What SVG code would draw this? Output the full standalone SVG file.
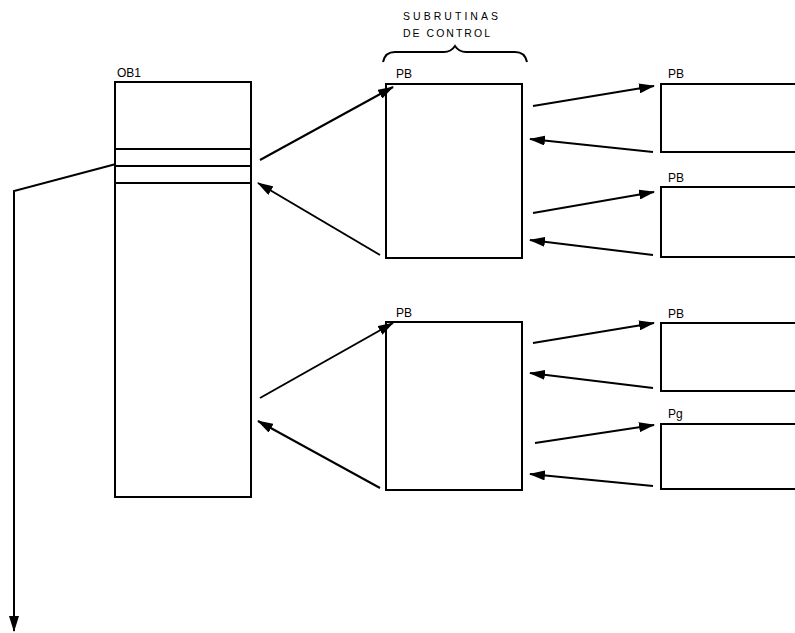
<svg xmlns="http://www.w3.org/2000/svg" width="795" height="633" viewBox="0 0 795 633">
<style>
.box{fill:none;stroke:#000;stroke-width:2}
.ln{fill:none;stroke:#000;stroke-width:2}
.lbl{font-family:"Liberation Sans",Arial,sans-serif;font-size:12px;fill:#000}
.ttl{font-family:"Liberation Sans",Arial,sans-serif;font-size:10.5px;fill:#000}
.arr{fill:none;stroke:#000;stroke-width:2;marker-end:url(#ah)}
</style>
<defs>
<marker id="ah" viewBox="0 0 16 10" refX="15" refY="5" markerWidth="16" markerHeight="10" markerUnits="userSpaceOnUse" orient="auto">
<path d="M0,0 L16,5 L0,10 Z" fill="#000"/>
</marker>
</defs>
<rect width="795" height="633" fill="#fff"/>
<g id="title">
<text class="ttl" x="403" y="20" textLength="95" lengthAdjust="spacing">SUBRUTINAS</text>
<text class="ttl" x="403" y="37" textLength="87" lengthAdjust="spacing">DE CONTROL</text>
<path class="ln" d="M383,62 Q385,52 395,52 L444,52 Q451,52 455,46 Q459,52 466,52 L515,52 Q525,52 527,62" stroke-width="1.5"/>
</g>
<g id="ob1">
<text class="lbl" x="117" y="77">OB1</text>
<rect class="box" x="115" y="82" width="136" height="415"/>
<line class="ln" x1="115" y1="149" x2="251" y2="149"/>
<line class="ln" x1="115" y1="166" x2="251" y2="166"/>
<line class="ln" x1="115" y1="183" x2="251" y2="183"/>
</g>
<g id="pb1">
<text class="lbl" x="396" y="78">PB</text>
<rect class="box" x="386" y="84" width="136" height="174"/>
</g>
<g id="pb2">
<text class="lbl" x="396" y="317">PB</text>
<rect class="box" x="386" y="322" width="136" height="168"/>
</g>
<g id="pb3">
<text class="lbl" x="668" y="78">PB</text>
<rect class="box" x="661" y="84" width="140" height="68"/>
</g>
<g id="pb4">
<text class="lbl" x="668" y="182">PB</text>
<rect class="box" x="661" y="187" width="140" height="70"/>
</g>
<g id="pb5">
<text class="lbl" x="668" y="318">PB</text>
<rect class="box" x="661" y="323" width="140" height="68"/>
</g>
<g id="pb6">
<text class="lbl" x="668" y="418">Pg</text>
<rect class="box" x="661" y="424" width="140" height="65"/>
</g>
<g id="connectors">
<line class="arr" x1="260" y1="160" x2="393" y2="87"/>
<line class="arr" x1="380" y1="255" x2="258" y2="183"/>
<line class="arr" x1="260" y1="398" x2="393" y2="323"/>
<line class="arr" x1="380" y1="488" x2="258" y2="421"/>
<line class="arr" x1="533" y1="106" x2="654" y2="86"/>
<line class="arr" x1="653" y1="152" x2="530" y2="139"/>
<line class="arr" x1="533" y1="213" x2="654" y2="192"/>
<line class="arr" x1="653" y1="255" x2="530" y2="240"/>
<line class="arr" x1="533" y1="343" x2="654" y2="323"/>
<line class="arr" x1="653" y1="388" x2="530" y2="373"/>
<line class="arr" x1="535" y1="443" x2="654" y2="425"/>
<line class="arr" x1="653" y1="486" x2="530" y2="474"/>
<polyline class="arr" points="116,164 14,191 14,631"/>
</g>
</svg>
